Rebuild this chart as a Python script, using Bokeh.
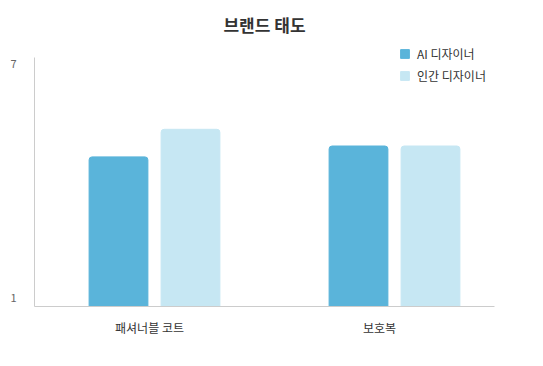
from bokeh.plotting import figure
from bokeh.models import Range1d, FixedTicker, Legend, LegendItem
from bokeh.embed import file_html
from bokeh.resources import INLINE

categories = ["패셔너블 코트", "보호복"]
series_names = ["AI 디자이너", "인간 디자이너"]
ai_values = [4.62, 4.9]
human_values = [5.33, 4.9]
y_ticks = [1, 7]
colors = ["#5ab4da", "#c6e7f3"]

FONT = "Noto Sans CJK KR"

p = figure(width=535, height=358, output_backend="svg", toolbar_location=None,
           x_range=Range1d(0, len(categories)), y_range=Range1d(0.769, 7.487),
           min_border_left=34, min_border_right=41, min_border_top=44, min_border_bottom=52)
p.extra_x_ranges = {"bars": Range1d(0, 460 / 240)}

p.title.text = "브랜드 태도"
p.title.align = "center"
p.title.text_font = FONT
p.title.text_font_size = "17px"
p.title.text_font_style = "bold"
p.title.text_color = "#333333"
p.title.standoff = 18

centers = [i + 0.5 for i in range(len(categories))]
dodge = 0.15
r_ai = p.vbar(x=[c - dodge for c in centers], top=ai_values, bottom=0, width=0.245,
              color=colors[0], border_radius=(3, 3, 0, 0), x_range_name="bars")
r_hu = p.vbar(x=[c + dodge for c in centers], top=human_values, bottom=0, width=0.245,
              color=colors[1], border_radius=(3, 3, 0, 0), x_range_name="bars")

p.xgrid.visible = False
p.ygrid.visible = False
p.outline_line_color = None

xa = p.xaxis[0]
xa.ticker = FixedTicker(ticks=centers)
xa.major_label_overrides = {c: cat for c, cat in zip(centers, categories)}
xa.axis_line_color = "#cccccc"
xa.major_tick_line_color = None
xa.minor_tick_line_color = None
xa.major_label_text_font = FONT
xa.major_label_text_font_size = "12px"
xa.major_label_text_color = "#333333"
xa.major_label_standoff = 6

ya = p.yaxis[0]
ya.ticker = FixedTicker(ticks=y_ticks)
ya.bounds = (0.769, 7.18)
ya.axis_line_color = "#cccccc"
ya.major_tick_line_color = None
ya.minor_tick_line_color = None
ya.major_label_text_font = FONT
ya.major_label_text_font_size = "11px"
ya.major_label_text_color = "#666666"
ya.major_label_standoff = 12

legend = Legend(items=[LegendItem(label=series_names[0], renderers=[r_ai]),
                       LegendItem(label=series_names[1], renderers=[r_hu])],
                location=(365, 222), orientation="vertical",
                border_line_color=None, background_fill_alpha=0,
                padding=0, margin=0, spacing=5, glyph_width=11, glyph_height=11,
                label_standoff=7, label_text_font=FONT, label_text_font_size="12px",
                label_text_color="#333333", label_height=14)
p.add_layout(legend, "center")

open("out.html", "w").write(file_html(p, INLINE))
